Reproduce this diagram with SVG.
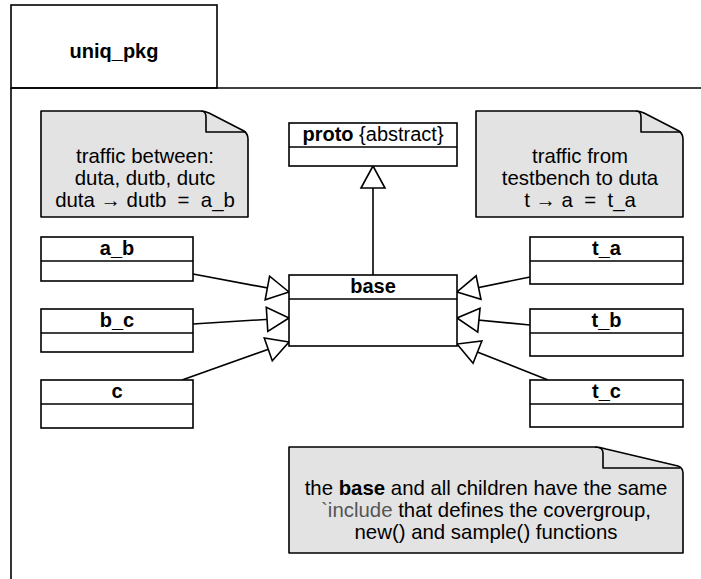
<svg xmlns="http://www.w3.org/2000/svg" width="701" height="579" viewBox="0 0 701 579">
  <style>
    text { font-family: "Liberation Sans", Arial, Helvetica, sans-serif; fill: #000; }
    .frame { fill: none; stroke: #000; stroke-width: 1.6; }
    .box { fill: #fff; stroke: #000; stroke-width: 1.6; }
    .div { stroke: #000; stroke-width: 1.6; }
    .title { font-size: 20px; font-weight: bold; text-anchor: middle; }
    .note { fill: #e3e3e3; stroke: #000; stroke-width: 1.6; stroke-linejoin: round; }
    .fold { fill: none; stroke: #000; stroke-width: 1.6; stroke-linejoin: round; }
    .ntext { font-size: 20.4px; text-anchor: middle; white-space: pre; }
    .light { fill: #555; }
    .edge { fill: none; stroke: #000; stroke-width: 1.6; marker-end: url(#gen); }
  </style>
  <defs>
    <!-- hollow generalization triangle, tip at the end point -->
    <marker id="gen" viewBox="-24 -14 26 28" refX="0" refY="0" markerWidth="26" markerHeight="28" markerUnits="userSpaceOnUse" orient="auto">
      <path d="M0,0 L-22,-12 L-22,12 Z" fill="#fff" stroke="#000" stroke-width="1.6" stroke-linejoin="miter"/>
    </marker>
  </defs>

  <!-- package frame -->
  <g id="pkg">
    <rect class="frame" x="11" y="5" width="206" height="83"/>
    <line class="frame" x1="11" y1="88" x2="701" y2="88"/>
    <line class="frame" x1="11" y1="88" x2="11" y2="579"/>
    <text class="title" x="114" y="58">uniq_pkg</text>
  </g>

  <!-- connectors -->
  <g id="edges">
    <line class="edge" x1="373" y1="275" x2="373" y2="166"/>
    <line class="edge" x1="193" y1="274" x2="289" y2="292"/>
    <line class="edge" x1="193" y1="324" x2="289" y2="318"/>
    <line class="edge" x1="182" y1="380" x2="289" y2="342"/>
    <line class="edge" x1="530" y1="277" x2="457" y2="292"/>
    <line class="edge" x1="530" y1="325" x2="457" y2="318"/>
    <line class="edge" x1="548" y1="380" x2="457" y2="344"/>
  </g>

  <!-- notes -->
  <g id="note_dut">
    <path class="note" d="M41,111 H200 Q205,111 209,113 L244,131 Q248,134 248,139 V217 H41 Z"/>
    <path class="fold" d="M201,111 Q206,111 206,117 V132 H246"/>
    <text class="ntext" x="145" y="163">traffic between:</text>
    <text class="ntext" x="145" y="185">duta, dutb, dutc</text>
    <text class="ntext" x="145" y="207">duta → dutb  =  a_b</text>
  </g>

  <g id="note_tb">
    <path class="note" d="M476,111 H635 Q640,111 644,113 L679,131 Q683,134 683,139 V217 H476 Z"/>
    <path class="fold" d="M636,111 Q641,111 641,117 V132 H681"/>
    <text class="ntext" x="580" y="163">traffic from</text>
    <text class="ntext" x="580" y="185">testbench to duta</text>
    <text class="ntext" x="580" y="207">t → a  =  t_a</text>
  </g>

  <g id="note_include">
    <path class="note" d="M289,447 H594 Q600,447 606,449 L678,466 Q683,468 683,473 V553 H289 Z"/>
    <path class="fold" d="M595,447 Q603,447 603,453 V468 H680"/>
    <text class="ntext" x="486" y="495">the <tspan font-weight="bold">base</tspan> and all children have the same</text>
    <text class="ntext" x="486" y="517"><tspan class="light">`include</tspan> that defines the covergroup,</text>
    <text class="ntext" x="486" y="539">new() and sample() functions</text>
  </g>

  <!-- classes -->
  <g id="proto">
    <rect class="box" x="289" y="123" width="168" height="43"/>
    <line class="div" x1="289" y1="147" x2="457" y2="147"/>
    <text x="373" y="141" font-size="20" text-anchor="middle"><tspan font-weight="bold">proto</tspan> {abstract}</text>
  </g>

  <g id="base">
    <rect class="box" x="289" y="275" width="168" height="71"/>
    <line class="div" x1="289" y1="299" x2="457" y2="299"/>
    <text class="title" x="373" y="293">base</text>
  </g>

  <g id="a_b">
    <rect class="box" x="41" y="237" width="152" height="44"/>
    <line class="div" x1="41" y1="261" x2="193" y2="261"/>
    <text class="title" x="117" y="255">a_b</text>
  </g>

  <g id="b_c">
    <rect class="box" x="41" y="309" width="152" height="43"/>
    <line class="div" x1="41" y1="333" x2="193" y2="333"/>
    <text class="title" x="117" y="327">b_c</text>
  </g>

  <g id="c">
    <rect class="box" x="41" y="380" width="152" height="48"/>
    <line class="div" x1="41" y1="404" x2="193" y2="404"/>
    <text class="title" x="117" y="398">c</text>
  </g>

  <g id="t_a">
    <rect class="box" x="530" y="237" width="153" height="47"/>
    <line class="div" x1="530" y1="261" x2="683" y2="261"/>
    <text class="title" x="606.5" y="255">t_a</text>
  </g>

  <g id="t_b">
    <rect class="box" x="530" y="309" width="153" height="47"/>
    <line class="div" x1="530" y1="333" x2="683" y2="333"/>
    <text class="title" x="606.5" y="327">t_b</text>
  </g>

  <g id="t_c">
    <rect class="box" x="530" y="380" width="153" height="47"/>
    <line class="div" x1="530" y1="404" x2="683" y2="404"/>
    <text class="title" x="606.5" y="398">t_c</text>
  </g>
</svg>
